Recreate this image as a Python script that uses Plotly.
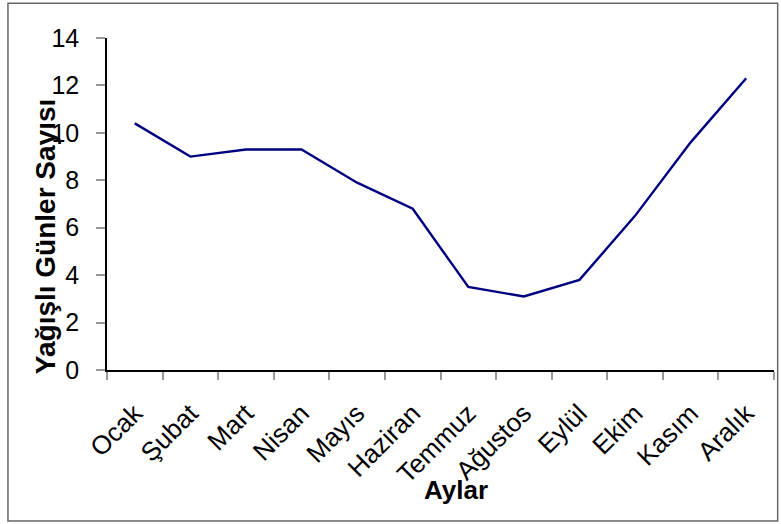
import plotly.graph_objects as go

months = ["Ocak", "Şubat", "Mart", "Nisan", "Mayıs", "Haziran",
          "Temmuz", "Ağustos", "Eylül", "Ekim", "Kasım", "Aralık"]
rainy_days = [10.4, 9.0, 9.3, 9.3, 7.9, 6.8, 3.5, 3.1, 3.8, 6.5, 9.6, 12.3]
y_ticks = [0, 2, 4, 6, 8, 10, 12, 14]

FONT = "Liberation Sans, Arial, sans-serif"

fig = go.Figure()
fig.add_trace(go.Scatter(x=months, y=rainy_days, mode="lines",
                         line=dict(color="#000080", width=2.4),
                         showlegend=False, hoverinfo="x+y"))

fig.update_layout(
    width=781, height=524,
    margin=dict(l=107, r=7, t=38, b=154),
    paper_bgcolor="white", plot_bgcolor="white",
    font=dict(family=FONT, color="black"),
    xaxis=dict(
        type="category", range=[-0.5, 11.5],
        showline=True, linecolor="black", linewidth=1.5,
        ticks="outside", tickcolor="#999999", ticklen=8, tickwidth=1.5,
        tickson="boundaries",
        tickangle=-45, tickfont=dict(size=26, family=FONT),
        ticklabelstandoff=16,
        showgrid=False, zeroline=False,
    ),
    yaxis=dict(
        range=[0, 14], tickvals=y_ticks,
        showline=True, linecolor="black", linewidth=1.5,
        ticks="outside", tickcolor="#999999", ticklen=9, tickwidth=1.5,
        tickfont=dict(size=25, family=FONT),
        ticklabelstandoff=12,
        showgrid=False, zeroline=False,
    ),
    annotations=[
        dict(text="<b>Yağışlı Günler Sayısı</b>", xref="paper", yref="paper",
             x=-0.092, y=0.402, xanchor="center", yanchor="middle",
             textangle=-90, showarrow=False,
             font=dict(size=28, family=FONT, color="black")),
        dict(text="<b>Aylar</b>", xref="paper", yref="paper",
             x=0.523, y=-0.36, xanchor="center", yanchor="middle",
             showarrow=False,
             font=dict(size=26, family=FONT, color="black")),
    ],
    shapes=[
        dict(type="rect", xref="paper", yref="paper",
             x0=-0.1485, x1=1.0055, y0=-0.455, y1=1.105,
             line=dict(color="#666666", width=1.5), layer="below"),
    ],
)

fig.write_html("out.html", config={"displayModeBar": False},
               post_script="document.body.style.margin='0';document.body.style.overflow='hidden';")
